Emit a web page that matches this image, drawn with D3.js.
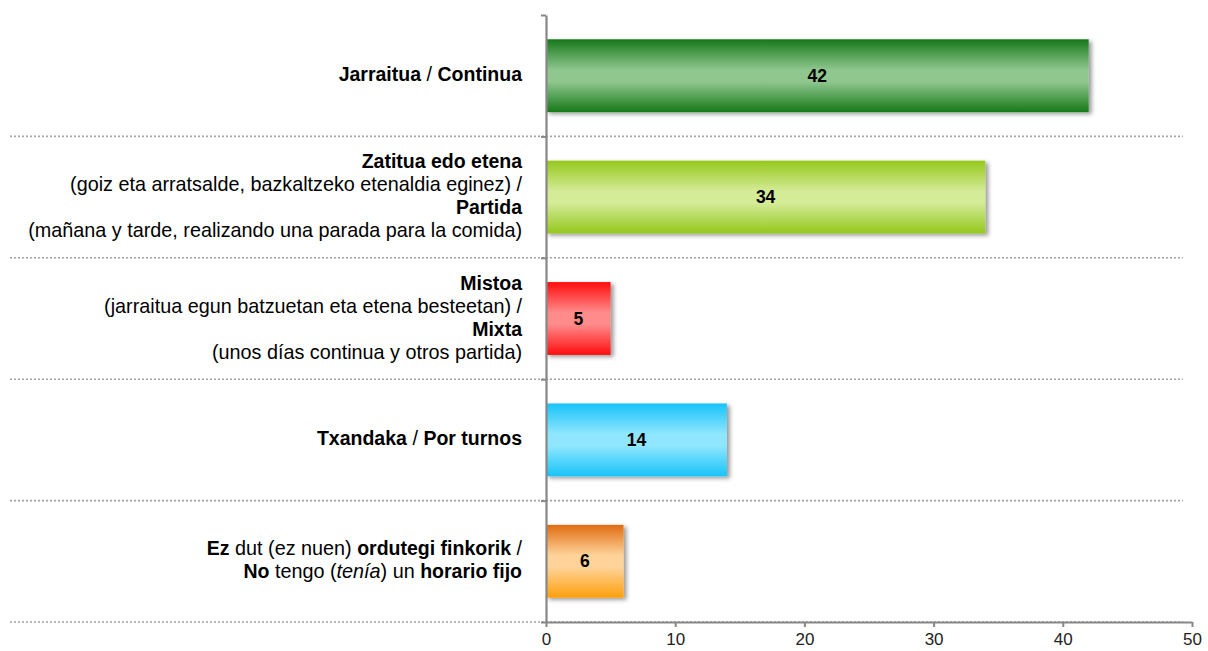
<!DOCTYPE html>
<html>
<head>
<meta charset="utf-8">
<script src="https://cdn.jsdelivr.net/npm/d3@7"></script>
<style>
  body { margin: 0; background: #fff; }
  svg { font-family: "Liberation Sans", Arial, sans-serif; }
  text { white-space: pre; }
</style>
</head>
<body>
<div id="vis"><svg></svg></div>
<script>
// data
const categories = ["continua", "partida", "mixta", "turnos", "sinhorario"];
const values = [42, 34, 5, 14, 6];
const xTicks = [0, 10, 20, 30, 40, 50];

// label lines: each line is a list of [text, style] pieces (b = bold, n = normal, i = italic)
const labelLines = [
  [[["Jarraitua", "b"], [" / ", "n"], ["Continua", "b"]]],
  [[["Zatitua edo etena", "b"]],
   [["(goiz eta arratsalde, bazkaltzeko etenaldia eginez) /", "n"]],
   [["Partida", "b"]],
   [["(mañana y tarde, realizando una parada para la comida)", "n"]]],
  [[["Mistoa", "b"]],
   [["(jarraitua egun batzuetan eta etena besteetan) /", "n"]],
   [["Mixta", "b"]],
   [["(unos días continua y otros partida)", "n"]]],
  [[["Txandaka", "b"], [" / ", "n"], ["Por turnos", "b"]]],
  [[["Ez", "b"], [" dut (ez nuen) ", "n"], ["ordutegi finkorik", "b"], [" /", "n"]],
   [["No", "b"], [" tengo (", "n"], ["tenía", "i"], [") un ", "n"], ["horario fijo", "b"]]]
];

// gradient colours: edge (top), light centre, edge (bottom)
const barEdgeTop = ["#17791a", "#95c81c", "#ff0d0d", "#17c4f8", "#e06c12"];
const barLight   = ["#8fc78f", "#d4eb98", "#ff8b8b", "#90e6ff", "#ffd39a"];
const barEdgeBot = ["#17791a", "#95c81c", "#ff0d0d", "#17c4f8", "#ffa00c"];

const W = 1208, H = 651;
const svg = d3.select("#vis").select("svg").attr("width", W).attr("height", H);

const x = d3.scaleLinear().domain([0, 50]).range([546, 1192]);
const y = d3.scaleBand().domain(categories).range([15, 622])
  .paddingInner(0.4).paddingOuter(0.2);
const yEdge = d3.scaleLinear().domain([0, categories.length]).range([15, 622]);

const defs = svg.append("defs");
const shadow = defs.append("filter").attr("id", "shadow")
  .attr("x", "-10%").attr("y", "-20%").attr("width", "130%").attr("height", "150%");
shadow.append("feDropShadow")
  .attr("dx", 3).attr("dy", 2).attr("stdDeviation", 2.2)
  .attr("flood-color", "#000").attr("flood-opacity", 0.4);

categories.forEach((c, i) => {
  const g = defs.append("linearGradient").attr("id", "grad" + i)
    .attr("x1", 0).attr("y1", 0).attr("x2", 0).attr("y2", 1);
  g.append("stop").attr("offset", "0%").attr("stop-color", barEdgeTop[i]);
  g.append("stop").attr("offset", "42%").attr("stop-color", barLight[i]);
  g.append("stop").attr("offset", "58%").attr("stop-color", barLight[i]);
  g.append("stop").attr("offset", "100%").attr("stop-color", barEdgeBot[i]);
});

// dotted separators
svg.append("g").selectAll("line")
  .data(d3.range(1, categories.length + 1))
  .join("line")
  .attr("x1", 10).attr("x2", 1183)
  .attr("y1", d => yEdge(d)).attr("y2", d => yEdge(d))
  .attr("stroke", "#a3a3a3").attr("stroke-width", 1.6)
  .attr("stroke-dasharray", "2,2");

// bars
svg.append("g").selectAll("rect")
  .data(values)
  .join("rect")
  .attr("x", x(0))
  .attr("y", (d, i) => y(categories[i]))
  .attr("width", d => x(d) - x(0))
  .attr("height", y.bandwidth())
  .attr("fill", (d, i) => `url(#grad${i})`)
  .attr("filter", "url(#shadow)");

// value labels
svg.append("g").selectAll("text")
  .data(values)
  .join("text")
  .attr("x", d => (x(0) + x(d)) / 2)
  .attr("y", (d, i) => y(categories[i]) + y.bandwidth() / 2 + 6)
  .attr("text-anchor", "middle")
  .attr("font-size", "17.5px")
  .attr("font-weight", "bold")
  .attr("fill", "#000")
  .text(d => d);

// category labels
const lineH = 23;
const labG = svg.append("g");
labelLines.forEach((lines, i) => {
  const cy = y(categories[i]) + y.bandwidth() / 2;
  const y0 = cy - (lines.length - 1) * lineH / 2 + 5.5;
  lines.forEach((pieces, j) => {
    const t = labG.append("text")
      .attr("x", 522).attr("y", y0 + j * lineH)
      .attr("text-anchor", "end")
      .attr("fill", "#000");
    pieces.forEach(([txt, st]) => {
      t.append("tspan")
        .attr("font-size", st === "b" ? "19.5px" : "19.8px")
        .attr("font-weight", st === "b" ? "bold" : "normal")
        .attr("font-style", st === "i" ? "italic" : "normal")
        .text(txt);
    });
  });
});

// axes
const yAxisG = svg.append("g").attr("transform", `translate(${x(0)},0)`)
  .call(d3.axisLeft(yEdge).tickValues(d3.range(0, categories.length + 1))
    .tickSize(5).tickSizeOuter(0).tickFormat(""));
const xAxisG = svg.append("g").attr("transform", `translate(0,${yEdge(categories.length)})`)
  .call(d3.axisBottom(x).tickValues(xTicks).tickSize(5).tickSizeOuter(0).tickPadding(6));

[yAxisG, xAxisG].forEach(a => {
  a.select(".domain").attr("stroke", "#878787").attr("stroke-width", 2.2);
  a.selectAll(".tick line").attr("stroke", "#878787").attr("stroke-width", 2);
});
xAxisG.selectAll(".tick text")
  .attr("font-size", "17px")
  .attr("font-family", "'Liberation Sans', Arial, sans-serif")
  .attr("fill", "#222");
</script>
</body>
</html>
